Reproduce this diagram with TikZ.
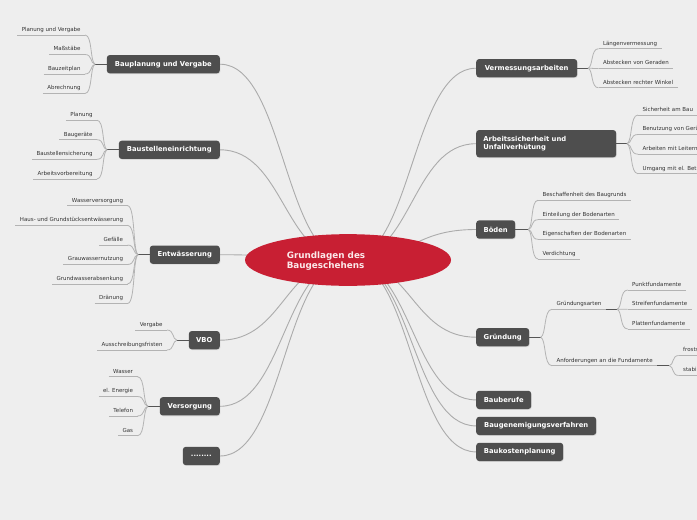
\documentclass[tikz,border=0pt]{standalone}
\usepackage{fontspec}
\setmainfont{DejaVu Sans}
\usetikzlibrary{calc,shadows,shapes.geometric}
\definecolor{bgc}{HTML}{EEEEEE}
\definecolor{boxc}{HTML}{4E4E4E}
\definecolor{redc}{HTML}{C81F33}
\definecolor{linec}{HTML}{ABABAB}
\definecolor{ulc}{HTML}{B3B3B3}
\definecolor{stubc}{HTML}{555555}
\definecolor{leaftxt}{HTML}{333333}
\definecolor{ctrtxt}{HTML}{FBE9EA}
\pgfdeclarelayer{bg}\pgfdeclarelayer{lines}\pgfsetlayers{bg,lines,main}
\newcommand\lfL[4]{\node[leaf,anchor=south east] (#1) at (#2,#3) {#4}; \draw[uline] (#1.south west) -- (#1.south east);}
\newcommand\lfR[4]{\node[leaf,anchor=south west] (#1) at (#2,#3) {#4}; \draw[uline] (#1.south west) -- (#1.south east);}
\newcommand\lcv[2]{\draw[lcurve] (#1) .. controls ($(#1)!0.15!(#1 |- #2)!0.5!(#2 |- #1)$) and ($(#2)!0.75!(#1 |- #2)$) .. (#2);}
\tikzset{
 mainbox/.style={fill=boxc, rounded corners=3pt, text=white, font=\bfseries\fontsize{6.8}{8.3}\selectfont, minimum height=18.3pt, inner xsep=0pt, inner ysep=0pt, drop shadow={opacity=0.2, shadow xshift=0.6pt, shadow yshift=-0.8pt}},
 leaf/.style={font=\fontsize{5.5}{6.6}\selectfont, text=leaftxt, inner xsep=4.3pt, inner ysep=2.2pt, text height=4pt, text depth=1.2pt},
 uline/.style={draw=ulc, line width=0.9pt},
 lcurve/.style={draw=ulc, line width=0.8pt},
 stub/.style={draw=stubc, line width=1pt},
 conn/.style={draw=linec, line width=0.9pt},
}
\begin{document}
\begin{tikzpicture}[x=1pt,y=-1pt]
\useasboundingbox (0,0) rectangle (697,520);
\begin{pgfonlayer}{bg}
\fill[bgc] (0,0) rectangle (697,520);
\end{pgfonlayer}
\clip (0,0) rectangle (697,520);
% centre
\node[ellipse, fill=redc, minimum width=206pt, minimum height=51.7pt, inner sep=0pt] (ctr) at (348,260) {};
\node[font=\bfseries\fontsize{8.8}{10.5}\selectfont, text=ctrtxt, align=left, inner sep=0pt] (ctrt) at (326,261) {Grundlagen des\\Baugeschehens};
\coordinate (ml) at (284,0);
\coordinate (mr) at (412,0);
% main boxes left
\node[mainbox, anchor=east, minimum width=113pt] (bp) at (220,64.2) {Bauplanung und Vergabe};
\node[mainbox, anchor=east, minimum width=101pt] (be) at (220,149.8) {Baustelleneinrichtung};
\node[mainbox, anchor=east, minimum width=70pt] (en) at (220,254.7) {Entwässerung};
\node[mainbox, anchor=east, minimum width=31pt] (vb) at (220,340.2) {VBO};
\node[mainbox, anchor=east, minimum width=60pt] (vs) at (220,406.3) {Versorgung};
\node[mainbox, anchor=east, minimum width=37pt] (dt) at (220,456) {........};
% main boxes right
\node[mainbox, anchor=west, minimum width=101pt] (vm) at (476,68.2) {Vermessungsarbeiten};
\node[mainbox, anchor=west, minimum width=140pt, minimum height=27.3pt, text width=125.5pt, align=left] (as) at (476,143.7) {Arbeitssicherheit und\\Unfallverhütung};
\node[mainbox, anchor=west, minimum width=39pt] (bo) at (476,229.5) {Böden};
\node[mainbox, anchor=west, minimum width=53pt] (gr) at (476,337.2) {Gründung};
\node[mainbox, anchor=west, minimum width=55pt] (bb) at (476,399.9) {Bauberufe};
\node[mainbox, anchor=west, minimum width=120pt] (bg) at (476,425.9) {Baugenemigungsverfahren};
\node[mainbox, anchor=west, minimum width=87pt] (bk) at (476,451.9) {Baukostenplanung};
% connectors
\begin{pgfonlayer}{lines}
\foreach \n in {bp,be,en,vb,vs,dt}
  \draw[conn] (\n.east) .. controls (ml |- \n.east) and (ml |- ctr.center) .. (ctr.center);
\foreach \n in {vm,as,bo,gr,bb,bg,bk}
  \draw[conn] (\n.west) .. controls (mr |- \n.west) and (mr |- ctr.center) .. (ctr.center);
\end{pgfonlayer}
% Bauplanung leaves
\coordinate (bBP) at (95,64.2);
\draw[stub] (bBP) -- (bp.west);
\lfL{pv1}{85}{35}{Planung und Vergabe}
\lfL{pv2}{85}{54.5}{Maßstäbe}
\lfL{pv3}{85}{74}{Bauzeitplan}
\lfL{pv4}{85}{93.5}{Abrechnung}
\foreach \l in {pv1,pv2,pv3,pv4} {\lcv{bBP}{\l.south east}}
% Baustelleneinrichtung leaves
\coordinate (bBE) at (107,149.8);
\draw[stub] (bBE) -- (be.west);
\lfL{be1}{97}{120.3}{Planung}
\lfL{be2}{97}{139.7}{Baugeräte}
\lfL{be3}{97}{159.3}{Baustellensicherung}
\lfL{be4}{97}{179}{Arbeitsvorbereitung}
\foreach \l in {be1,be2,be3,be4} {\lcv{bBE}{\l.south east}}
% Entwaesserung leaves
\coordinate (bEN) at (138,254.7);
\draw[stub] (bEN) -- (en.west);
\lfL{en1}{127.5}{205.7}{Wasserversorgung}
\lfL{en2}{127.5}{225.3}{Haus- und Grundstücksentwässerung}
\lfL{en3}{127.5}{245}{Gefälle}
\lfL{en4}{127.5}{264.5}{Grauwassernutzung}
\lfL{en5}{127.5}{284}{Grundwasserabsenkung}
\lfL{en6}{127.5}{303.5}{Dränung}
\foreach \l in {en1,en2,en3,en4,en5,en6} {\lcv{bEN}{\l.south east}}
% VBO leaves
\coordinate (bVB) at (177,340.2);
\draw[stub] (bVB) -- (vb.west);
\lfL{vb1}{167}{330}{Vergabe}
\lfL{vb2}{167}{350}{Ausschreibungsfristen}
\foreach \l in {vb1,vb2} {\lcv{bVB}{\l.south east}}
% Versorgung leaves
\coordinate (bVS) at (148,406.3);
\draw[stub] (bVS) -- (vs.west);
\lfL{vs1}{137.5}{376.7}{Wasser}
\lfL{vs2}{137.5}{396.5}{el. Energie}
\lfL{vs3}{137.5}{416}{Telefon}
\lfL{vs4}{137.5}{435.7}{Gas}
\foreach \l in {vs1,vs2,vs3,vs4} {\lcv{bVS}{\l.south east}}
% Vermessungsarbeiten leaves
\coordinate (bVM) at (588,68.2);
\draw[stub] (vm.east) -- (bVM);
\lfR{vm1}{598.5}{48.7}{Längenvermessung}
\lfR{vm2}{598.5}{68.5}{Abstecken von Geraden}
\lfR{vm3}{598.5}{87.8}{Abstecken rechter Winkel}
\foreach \l in {vm1,vm2,vm3} {\lcv{bVM}{\l.south west}}
% Arbeitssicherheit leaves
\coordinate (bAS) at (627,143.7);
\draw[stub] (as.east) -- (bAS);
\lfR{as1}{638}{115}{Sicherheit am Bau}
\lfR{as2}{638}{134.5}{Benutzung von Gerüsten}
\lfR{as3}{638}{154.2}{Arbeiten mit Leitern}
\lfR{as4}{638}{173.7}{Umgang mit el. Betriebsmitteln}
\foreach \l in {as1,as2,as3,as4} {\lcv{bAS}{\l.south west}}
% Boeden leaves
\coordinate (bBO) at (528.3,229.5);
\draw[stub] (bo.east) -- (bBO);
\lfR{bo1}{538}{200.3}{Beschaffenheit des Baugrunds}
\lfR{bo2}{538}{219.7}{Einteilung der Bodenarten}
\lfR{bo3}{538}{239.3}{Eigenschaften der Bodenarten}
\lfR{bo4}{538}{259}{Verdichtung}
\foreach \l in {bo1,bo2,bo3,bo4} {\lcv{bBO}{\l.south west}}
% Gruendung leaves
\coordinate (bGR) at (540.7,337.2);
\draw[stub] (gr.east) -- (bGR);
\lfR{gr1}{552}{309.3}{Gründungsarten}
\lfR{gr2}{552}{365.7}{Anforderungen an die Fundamente}
\foreach \l in {gr1,gr2} {\lcv{bGR}{\l.south west}}
\coordinate (bGA) at (617,309.3);
\draw[stub] (gr1.south east) -- (bGA);
\lfR{ga1}{627.7}{290}{Punktfundamente}
\lfR{ga2}{627.7}{309.3}{Streifenfundamente}
\lfR{ga3}{627.7}{329}{Plattenfundamente}
\foreach \l in {ga1,ga2,ga3} {\lcv{bGA}{\l.south west}}
\coordinate (bAF) at (669.3,365.7);
\draw[stub] (gr2.south east) -- (bAF);
\lfR{af1}{678.7}{355.5}{frostsicher}
\lfR{af2}{678.7}{375.5}{stabil}
\foreach \l in {af1,af2} {\lcv{bAF}{\l.south west}}
\end{tikzpicture}
\end{document}
